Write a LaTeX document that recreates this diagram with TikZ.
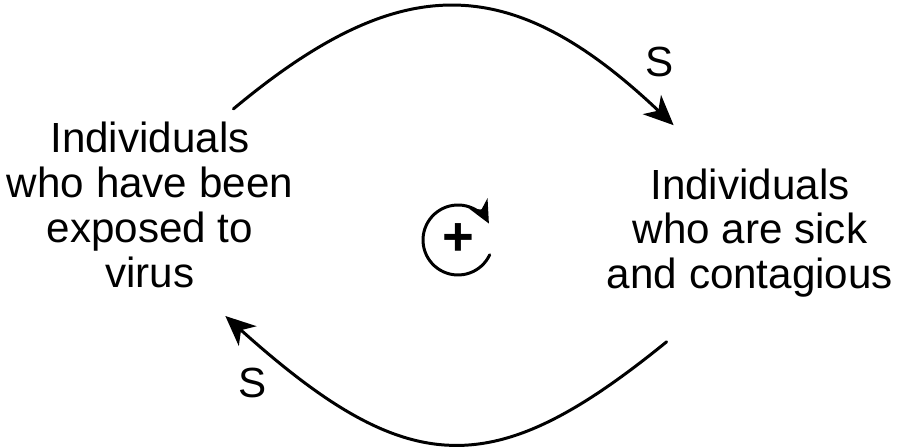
\documentclass[tikz,border=0pt]{standalone}
\usepackage{fontspec}
\setmainfont{Liberation Sans}
\usetikzlibrary{arrows.meta,calc}
\tikzset{
  stock/.style={align=center,inner sep=0pt,font=\fontsize{24}{25.5}\selectfont},
  link/.style={line width=1.7pt,-{Stealth[length=17pt,width=15pt,inset=5pt]}},
  sign/.style={inner sep=0pt,font=\fontsize{24}{25}\selectfont},
}
\begin{document}
\begin{tikzpicture}[x=0.02cm,y=0.02cm,line cap=round,line join=round]
  \useasboundingbox (0,0) rectangle (910,448);
  % variables
  \node[stock] (expo) at (150,243) {Individuals\\who have been\\exposed to\\virus};
  \node[stock] (sick) at (750,215) {Individuals\\who are sick\\and contagious};
  % links
  \draw[link] ($(expo.north east)+(-60,13)$) .. controls (400,478) and (510,478) .. ($(sick.north west)+(67,43)$);
  \draw[link] ($(sick.south west)+(60,-44)$) .. controls (494,-34) and (410,-34) .. ($(expo.south east)+(-68,-28)$);
  \node[sign] (s1) at (660,386) {S};
  \node[sign] (s2) at (253,65) {S};
  % loop
  \node[inner sep=0pt,font=\fontsize{31}{31}\bfseries] (R) at (458,208) {+};
  \draw[line width=1.7pt,-{Stealth[length=13pt,width=12pt,inset=4pt]}] (R.center) ++(-25:0.7cm) arc[start angle=-25,end angle=-332,radius=0.7cm];
\end{tikzpicture}
\end{document}
